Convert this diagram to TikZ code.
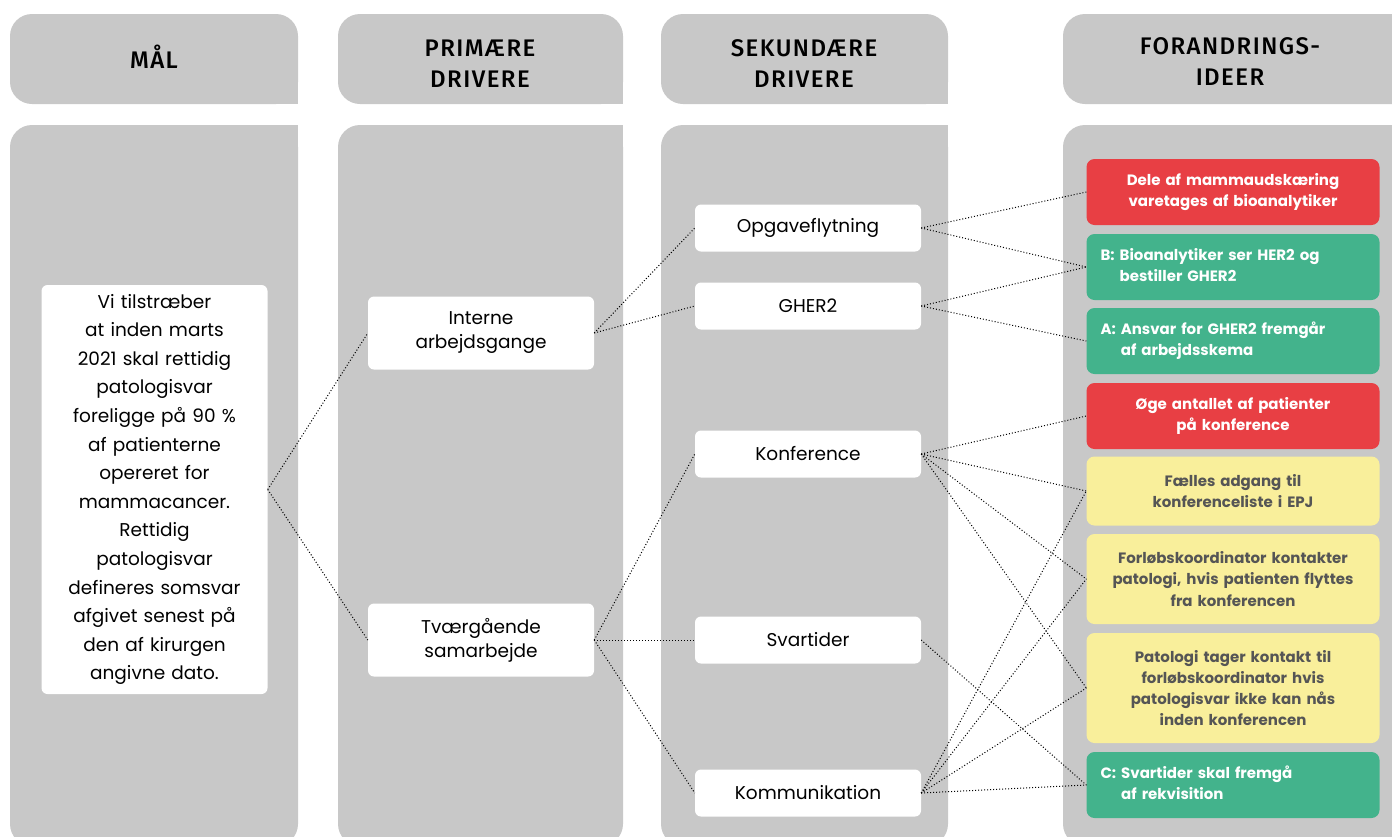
\documentclass[tikz,border=0pt]{standalone}
\usepackage{fontspec}
\setmainfont{Poppins}
\newfontfamily\headfont[LetterSpace=6, BoldFont={Fira Sans Medium}]{Fira Sans}
\usetikzlibrary{positioning}
\definecolor{panelgray}{HTML}{C8C8C8}
\definecolor{ideared}{HTML}{E83F44}
\definecolor{ideagreen}{HTML}{43B38C}
\definecolor{ideayellow}{HTML}{F9EF9B}
\definecolor{ideatext}{HTML}{555555}

\tikzset{
  panel/.style={fill=panelgray},
  heading/.style={font=\headfont\bfseries\fontsize{24}{31}\selectfont, align=center, inner sep=0pt},
  drivbox/.style={fill=white, rounded corners=6pt, minimum width=226pt, minimum height=47pt,
    text width=214pt, inner sep=0pt, align=center, font=\fontsize{18.5}{24}\selectfont},
  idea/.style={rounded corners=8pt, minimum width=293pt, minimum height=66pt,
    text width=265pt, inner sep=0pt, font=\bfseries\fontsize{15}{21.3}\selectfont},
  redidea/.style={idea, fill=ideared, text=white, align=center},
  greenidea/.style={idea, fill=ideagreen, text=white, align=left},
  yellowidea/.style={idea, fill=ideayellow, text=ideatext, align=center},
  link/.style={line width=1pt, dash pattern=on 1pt off 2pt},
}

\begin{document}
\begin{tikzpicture}[x=1pt, y=-1pt]
  \useasboundingbox (0,0) rectangle (1392,836);
  \clip (0,0) rectangle (1392,836);

  % column panels
  \foreach \xa/\xb in {10/298, 338/623, 661/948, 1063/1430} {
    \fill[panel, rounded corners=22pt] (\xa,14) rectangle (\xb,104);
    \fill[panel] (\xb-30,60) rectangle (\xb,104);
    \fill[panel, rounded corners=22pt] (\xa,125) rectangle (\xb,846);
    \fill[panel] (\xb-30,125) rectangle (\xb,180);
  }

  % headings
  \node[heading] (hmaal) at (154,57) {MÅL};
  \node[heading] (hprim) at (480,64) {PRIMÆRE\\DRIVERE};
  \node[heading] (hsek) at (804,64) {SEKUNDÆRE\\DRIVERE};
  \node[heading] (hfor) at (1230,62) {FORANDRINGS-\\IDEER};

  % goal
  \node[drivbox, minimum height=409pt, font=\fontsize{18.5}{28.6}\selectfont] (goal) at (154.5,489.5)
    {Vi tilstræber\\at inden marts\\2021 skal rettidig\\patologisvar\\foreligge på 90 \%\\af patienterne\\opereret for\\mammacancer.\\Rettidig\\patologisvar\\defineres somsvar\\afgivet senest på\\den af kirurgen\\angivne dato.};

  % primary drivers
  \node[drivbox, minimum height=73pt] (int) at (481,333) {Interne\\arbejdsgange};
  \node[drivbox, minimum height=73pt] (tvg) at (481,640) {Tværgående\\samarbejde};

  % secondary drivers
  \node[drivbox] (opg) at (808,228) {Opgaveflytning};
  \node[drivbox] (gher) at (808,306) {GHER2};
  \node[drivbox] (konf) at (808,454) {Konference};
  \node[drivbox] (svar) at (808,640) {Svartider};
  \node[drivbox] (komm) at (808,793) {Kommunikation};

  % change ideas
  \node[redidea] (dele) at (1233,192) {Dele af mammaudskæring\\varetages af bioanalytiker};
  \node[greenidea] (bio) at (1233,267)
    {\begin{tabular}{@{}l@{\hspace{5pt}}l@{}}B: & Bioanalytiker ser HER2 og\\ & bestiller GHER2\end{tabular}};
  \node[greenidea] (ansvar) at (1233,341)
    {\begin{tabular}{@{}l@{\hspace{5pt}}l@{}}A: & Ansvar for GHER2 fremgår\\ & af arbejdsskema\end{tabular}};
  \node[redidea] (oege) at (1233,416) {Øge antallet af patienter\\på konference};
  \node[yellowidea, minimum height=69pt] (faelles) at (1233,491) {Fælles adgang til\\konferenceliste i EPJ};
  \node[yellowidea, minimum height=90pt] (forlob) at (1233,579)
    {Forløbskoordinator kontakter\\patologi, hvis patienten flyttes\\fra konferencen};
  \node[yellowidea, minimum height=110pt] (patologi) at (1233,688)
    {Patologi tager kontakt til\\forløbskoordinator hvis\\patologisvar ikke kan nås\\inden konferencen};
  \node[greenidea] (svarC) at (1233,785)
    {\begin{tabular}{@{}l@{\hspace{5pt}}l@{}}C: & Svartider skal fremgå\\ & af rekvisition\end{tabular}};

  % connectors
  \foreach \a/\b in {goal/int, goal/tvg, int/opg, int/gher, tvg/konf, tvg/svar, tvg/komm,
      opg/dele, opg/bio, gher/bio, gher/ansvar,
      konf/oege, konf/faelles, konf/forlob, konf/patologi, svar/svarC,
      komm/faelles, komm/forlob, komm/patologi, komm/svarC}
    \draw[link] (\a.east) -- (\b.west);
\end{tikzpicture}
\end{document}
